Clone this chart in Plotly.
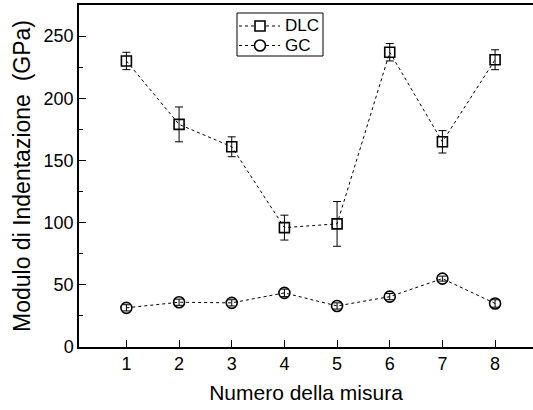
import plotly.graph_objects as go

x_vals = [1, 2, 3, 4, 5, 6, 7, 8]
dlc = [230, 179, 161, 96, 99, 237, 165, 231]
dlc_err = [7, 14, 8, 10, 18, 7, 9, 8]
gc = [31.5, 36, 35.5, 43.5, 33, 40.5, 55, 35]
gc_err = [2.5, 2.5, 2.5, 3, 2.5, 2.5, 2, 3]
series_names = ["DLC", "GC"]

font = "Arial"
W, H = 533, 410
ML, MR, MT, MB = 79, 0, 5, 63
PW, PH = W - ML - MR, H - MT - MB


def px(x):
    return (x - ML) / PW


def py(y):
    return (H - MB - y) / PH


fig = go.Figure()
fig.add_trace(go.Scatter(
    x=x_vals, y=dlc, name=series_names[0], mode="lines+markers",
    line=dict(color="black", width=1, dash="dot"),
    marker=dict(symbol="square-open", size=10, color="black", line=dict(width=1.6)),
    error_y=dict(type="data", array=dlc_err, color="black", thickness=1, width=4),
))
fig.add_trace(go.Scatter(
    x=x_vals, y=gc, name=series_names[1], mode="lines+markers",
    line=dict(color="black", width=1, dash="dot"),
    marker=dict(symbol="circle-open", size=11, color="black", line=dict(width=1.6)),
    error_y=dict(type="data", array=gc_err, color="black", thickness=1, width=4),
))

# manual legend box (layout decoration)
shapes = [dict(type="rect", xref="paper", yref="paper",
               x0=px(237), x1=px(323), y0=py(56), y1=py(13),
               line=dict(color="black", width=1), fillcolor="white", layer="above")]
annotations = []
rows = [26, 45.5]
for i, (name, yy) in enumerate(zip(series_names, rows)):
    for a, b in [(239, 254), (266, 280)]:
        shapes.append(dict(type="line", xref="paper", yref="paper",
                           x0=px(a), x1=px(b), y0=py(yy), y1=py(yy),
                           line=dict(color="black", width=1, dash="dot"), layer="above"))
    if i == 0:
        shapes.append(dict(type="rect", xref="paper", yref="paper",
                           x0=px(255), x1=px(265), y0=py(yy + 5), y1=py(yy - 5),
                           line=dict(color="black", width=1.6), fillcolor="white", layer="above"))
    else:
        shapes.append(dict(type="circle", xref="paper", yref="paper",
                           x0=px(254.5), x1=px(265.5), y0=py(yy + 5.5), y1=py(yy - 5.5),
                           line=dict(color="black", width=1.6), fillcolor="white", layer="above"))
    annotations.append(dict(text=name, xref="paper", yref="paper", x=px(283), y=py(yy),
                            xanchor="left", yanchor="middle", showarrow=False,
                            font=dict(size=17, family=font, color="black")))

fig.update_layout(
    width=W, height=H,
    margin=dict(l=ML, r=MR, t=MT, b=MB),
    plot_bgcolor="white", paper_bgcolor="white",
    font=dict(family=font, size=18, color="black"),
    showlegend=False,
    shapes=shapes, annotations=annotations,
    xaxis=dict(
        range=[0.1, 8.72], tickvals=x_vals, ticks="inside", ticklen=7,
        tickwidth=1, tickcolor="black", showline=True, linecolor="black",
        linewidth=1.5, mirror=True, showgrid=False, zeroline=False,
        title=dict(text="Numero della misura", font=dict(size=21), standoff=12),
        tickfont=dict(size=18),
    ),
    yaxis=dict(
        range=[0, 275], tickvals=[0, 50, 100, 150, 200, 250], ticks="inside",
        ticklen=7, tickwidth=1, tickcolor="black", showline=True,
        linecolor="black", linewidth=1.5, showgrid=False, zeroline=False,
        minor=dict(tickvals=[25, 75, 125, 175, 225, 275], ticks="inside",
                   ticklen=4, tickcolor="black", tickwidth=1, showgrid=False),
        title=dict(text="Modulo di Indentazione  (GPa)", font=dict(size=23), standoff=7),
        tickfont=dict(size=18),
    ),
)

fig.write_html("out.html")
